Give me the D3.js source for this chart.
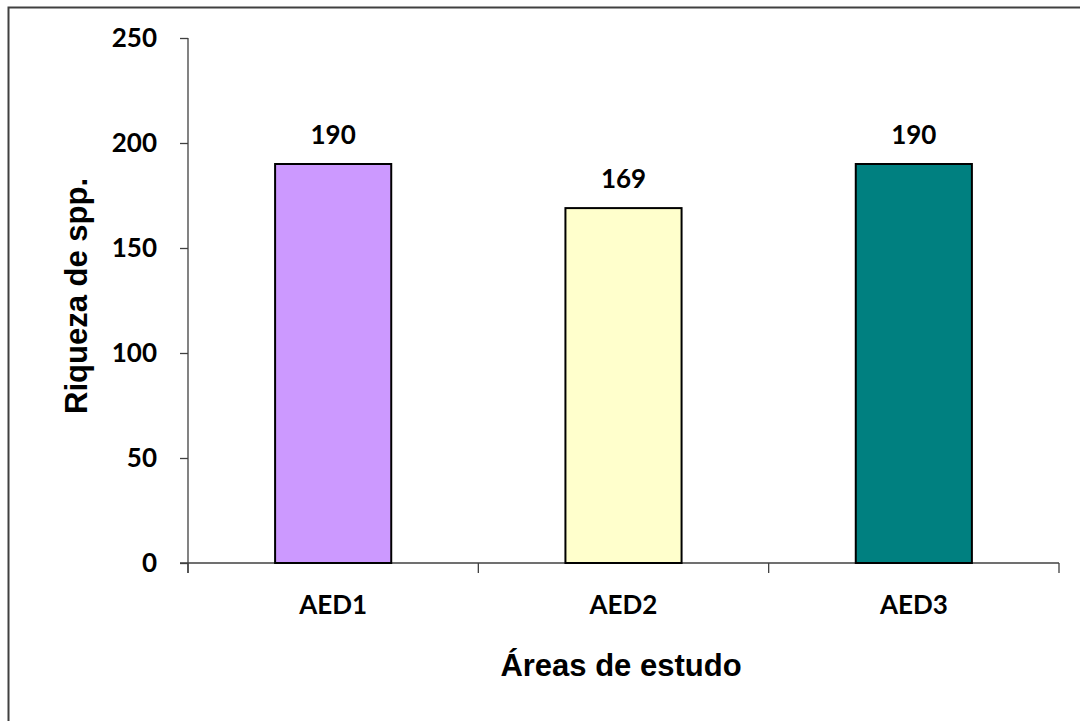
<!DOCTYPE html>
<html>
<head>
<meta charset="utf-8">
<script src="https://cdn.jsdelivr.net/npm/d3@7"></script>
<style>
  html, body { margin: 0; padding: 0; background: #fff; }
  svg { display: block; }
</style>
</head>
<body>
<svg id="chart" width="1080" height="721"></svg>
<script>
const categories = ["AED1", "AED2", "AED3"];
const values = [190, 169, 190];
const colors = ["#CC99FF", "#FFFFCC", "#008080"];
const yTicks = [0, 50, 100, 150, 200, 250];
const yTitle = "Riqueza de spp.";
const xTitle = "Áreas de estudo";

const svg = d3.select("#chart");
const W = 1080, H = 721;
const plot = { left: 188, right: 1059, top: 38, bottom: 563 };
const calibriLike = "Lato, 'Open Sans', sans-serif";
const arialLike = "'Liberation Sans', Arial, sans-serif";

svg.append("rect").attr("width", W).attr("height", H).attr("fill", "#fff");
// outer chart border
svg.append("rect")
  .attr("x", 8.5).attr("y", 7.5).attr("width", 1200).attr("height", 900)
  .attr("fill", "none").attr("stroke", "#404040").attr("stroke-width", 2);

const y = d3.scaleLinear().domain([0, 250]).range([plot.bottom, plot.top]);
const xBand = d3.scaleBand().domain(categories).range([plot.left, plot.right])
  .paddingInner(0.6).paddingOuter(0.3);
const xEdges = d3.scaleBand().domain(categories).range([plot.left, plot.right]).padding(0);

// y axis
const yAxis = svg.append("g")
  .attr("transform", `translate(${plot.left},0)`)
  .call(d3.axisLeft(y).tickValues(yTicks).tickSize(8).tickPadding(23).tickSizeOuter(0));
yAxis.select(".domain").attr("stroke", "#404040").attr("stroke-width", 1.3)
  .attr("d", `M0,${plot.top}V${plot.bottom + 10}`);
yAxis.selectAll(".tick line").attr("stroke", "#404040").attr("stroke-width", 1.3);
yAxis.selectAll(".tick text")
  .attr("font-family", calibriLike).attr("font-weight", "bold")
  .attr("font-size", 26).attr("fill", "#000");

// x axis line + edge ticks
const edgePositions = categories.map(c => xEdges(c)).concat([plot.right]);
svg.append("line")
  .attr("x1", plot.left - 8).attr("x2", plot.right)
  .attr("y1", plot.bottom).attr("y2", plot.bottom)
  .attr("stroke", "#404040").attr("stroke-width", 1.3);
svg.selectAll(".xtick").data(edgePositions).join("line")
  .attr("class", "xtick")
  .attr("x1", d => d).attr("x2", d => d)
  .attr("y1", plot.bottom).attr("y2", plot.bottom + 10)
  .attr("stroke", "#404040").attr("stroke-width", 1.3);

// category labels
svg.selectAll(".xlabel").data(categories).join("text")
  .attr("class", "xlabel")
  .attr("x", d => xBand(d) + xBand.bandwidth() / 2)
  .attr("y", 614)
  .attr("text-anchor", "middle")
  .attr("font-family", calibriLike).attr("font-weight", "bold")
  .attr("font-size", 26).attr("fill", "#000")
  .text(d => d);

// bars
svg.selectAll(".bar").data(categories).join("rect")
  .attr("class", "bar")
  .attr("x", d => xBand(d))
  .attr("y", (d, i) => y(values[i]))
  .attr("width", xBand.bandwidth())
  .attr("height", (d, i) => y(0) - y(values[i]))
  .attr("fill", (d, i) => colors[i])
  .attr("stroke", "#000").attr("stroke-width", 2);

// data labels
svg.selectAll(".vlabel").data(categories).join("text")
  .attr("class", "vlabel")
  .attr("x", d => xBand(d) + xBand.bandwidth() / 2)
  .attr("y", (d, i) => y(values[i]) - 20)
  .attr("text-anchor", "middle")
  .attr("font-family", calibriLike).attr("font-weight", "bold")
  .attr("font-size", 26).attr("fill", "#000")
  .text((d, i) => values[i]);

// axis titles
svg.append("text")
  .attr("x", 621).attr("y", 676)
  .attr("text-anchor", "middle")
  .attr("font-family", arialLike).attr("font-weight", "bold")
  .attr("font-size", 31).attr("fill", "#000")
  .text(xTitle);

svg.append("text")
  .attr("transform", "translate(87,296) rotate(-90)")
  .attr("text-anchor", "middle")
  .attr("font-family", arialLike).attr("font-weight", "bold")
  .attr("font-size", 31).attr("fill", "#000")
  .text(yTitle);
</script>
</body>
</html>
